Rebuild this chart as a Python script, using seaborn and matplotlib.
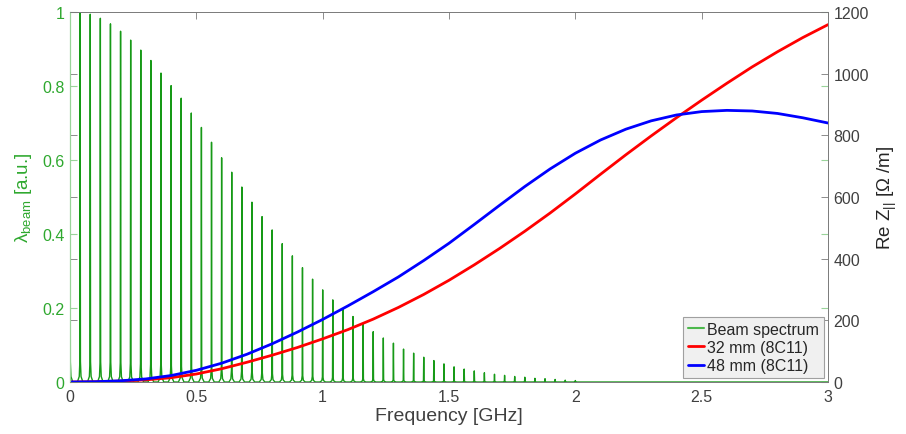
import numpy as np
import pandas as pd
import matplotlib
matplotlib.use("Agg")
import matplotlib.pyplot as plt
import seaborn as sns

# Beam spectrum: harmonic frequencies (GHz) and normalised line amplitudes
harmonic_ghz = [0.00, 0.04, 0.08, 0.12, 0.16, 0.20, 0.24, 0.28, 0.32, 0.36,
                0.40, 0.44, 0.48, 0.52, 0.56, 0.60, 0.64, 0.68, 0.72, 0.76,
                0.80, 0.84, 0.88, 0.92, 0.96, 1.00, 1.04, 1.08, 1.12, 1.16,
                1.20, 1.24, 1.28, 1.32, 1.36, 1.40, 1.44, 1.48, 1.52, 1.56,
                1.60, 1.64, 1.68, 1.72, 1.76, 1.80, 1.84, 1.88, 1.92, 1.96, 2.00]
line_amp = [1.000, 0.999, 0.994, 0.983, 0.968, 0.948, 0.924, 0.897, 0.869, 0.835,
            0.801, 0.767, 0.727, 0.688, 0.648, 0.606, 0.567, 0.527, 0.486, 0.447,
            0.411, 0.374, 0.341, 0.309, 0.278, 0.249, 0.222, 0.197, 0.177, 0.157,
            0.136, 0.119, 0.105, 0.089, 0.078, 0.067, 0.058, 0.049, 0.041, 0.035,
            0.030, 0.025, 0.021, 0.018, 0.015, 0.013, 0.010, 0.009, 0.007, 0.005, 0.004]

# Real part of the longitudinal impedance for two kicker apertures (Ohm/m)
freq_ghz = [0.0, 0.1, 0.2, 0.3, 0.4, 0.5, 0.6, 0.7, 0.8, 0.9, 1.0,
            1.1, 1.2, 1.3, 1.4, 1.5, 1.6, 1.7, 1.8, 1.9, 2.0,
            2.1, 2.2, 2.3, 2.4, 2.5, 2.6, 2.7, 2.8, 2.9, 3.0]
z_32mm = [0, 1, 3, 7, 14, 26, 43, 64, 87, 112, 140,
          170, 204, 242, 284, 330, 380, 433, 489, 548, 610,
          674, 737, 798, 857, 914, 969, 1022, 1071, 1117, 1159]
z_48mm = [0, 1, 4, 10, 21, 38, 61, 90, 124, 162, 203,
          247, 293, 341, 394, 450, 511, 573, 634, 691, 742,
          785, 820, 847, 866, 877, 881, 879, 871, 857, 840]

legend_labels = ["Beam spectrum", "32 mm (8C11)", "48 mm (8C11)"]
x_ticks = [0, 0.5, 1, 1.5, 2, 2.5, 3]
x_ticklabels = ["0", "0.5", "1", "1.5", "2", "2.5", "3"]
left_ticks = [0, 0.2, 0.4, 0.6, 0.8, 1]
left_ticklabels = ["0", "0.2", "0.4", "0.6", "0.8", "1"]
right_ticks = [0, 200, 400, 600, 800, 1000, 1200]

sns.set_style("white")
plt.rcParams["font.family"] = ["Liberation Sans", "DejaVu Sans"]
plt.rcParams["mathtext.fontset"] = "custom"
plt.rcParams["mathtext.rm"] = "Liberation Sans"
plt.rcParams["mathtext.it"] = "Liberation Sans:italic"

GREEN_LINE = "#179a17"
GREEN_TEXT = "#2ea82e"
GREEN_TICK = "#9ad49a"
GRAY = "#262626"
SPINE = "#7a7a7a"

# Each spectral line is drawn as a thin spike with a short flared skirt
skirt_dx = [-0.011, -0.0035, -0.0012, 0.0, 0.0012, 0.0035, 0.011]
skirt_frac = [0.0, 0.015, 0.055, None, 0.055, 0.015, 0.0]
xs, ys = [], []
for f, a in zip(harmonic_ghz, line_amp):
    for dx, fr in zip(skirt_dx, skirt_frac):
        xs.append(f + dx)
        ys.append(a if fr is None else a * fr)
xs.append(3.0)
ys.append(0.0)
spectrum = pd.DataFrame({"f": xs, "amp": ys})

fig = plt.figure(figsize=(9.06, 4.35), dpi=100)
ax1 = fig.add_axes([0.0773, 0.1195, 0.8366, 0.8506])
ax2 = ax1.twinx()

sns.lineplot(data=spectrum, x="f", y="amp", estimator=None, sort=False,
             ax=ax1, color=GREEN_LINE, lw=1.0, label=legend_labels[0])
sns.lineplot(x=freq_ghz, y=z_32mm, ax=ax2, color="#ff0000", lw=2.0,
             label=legend_labels[1])
sns.lineplot(x=freq_ghz, y=z_48mm, ax=ax2, color="#0000ff", lw=2.0,
             label=legend_labels[2])

ax1.set_xlim(0, 3)
ax1.set_ylim(0, 1)
ax2.set_ylim(0, 1200)

ax1.set_xticks(x_ticks)
ax1.set_xticklabels(x_ticklabels)
ax1.set_yticks(left_ticks)
ax1.set_yticklabels(left_ticklabels)
ax2.set_yticks(right_ticks)
ax2.set_yticklabels([str(v) for v in right_ticks])

ax1.tick_params(axis="x", direction="in", length=5, width=0.6, color=SPINE,
                labelcolor="#404040", labelsize=11.5, top=True, pad=5)
ax1.tick_params(axis="y", direction="in", length=5, width=0.8, color=GREEN_TICK,
                labelcolor=GREEN_TEXT, labelsize=11.5, right=True, pad=4)
ax2.tick_params(axis="y", direction="in", length=5, width=0.6, color=SPINE,
                labelcolor="#404040", labelsize=11.5, left=True, pad=4)

for ax in (ax1, ax2):
    for side in ("top", "bottom", "right"):
        ax.spines[side].set_color(SPINE)
        ax.spines[side].set_linewidth(0.6)
    ax.spines["left"].set_color(GREEN_TICK)
    ax.spines["left"].set_linewidth(0.8)

ax1.set_xlabel("Frequency [GHz]", fontsize=14, color="#404040", labelpad=2)
ax1.set_ylabel(r"λ$_{\mathrm{beam}}$ [a.u.]", fontsize=13.5, color=GREEN_TEXT,
               labelpad=6)
ax2.set_ylabel(r"Re Z$_{||}$ [Ω /m]", fontsize=13.5, color=GRAY, labelpad=5)

h1, l1 = ax1.get_legend_handles_labels()
h2, l2 = ax2.get_legend_handles_labels()
if ax1.get_legend() is not None:
    ax1.get_legend().remove()
leg = ax2.legend(h1 + h2, l1 + l2, loc="lower right", fontsize=11.5,
                 frameon=True, fancybox=False, facecolor="#f0f0f0",
                 edgecolor="#a0a0a0", framealpha=1.0, handlelength=1.0,
                 handletextpad=0.2, borderpad=0.3, labelspacing=0.2,
                 borderaxespad=0.25)
leg.get_frame().set_linewidth(0.8)
leg.legend_handles[0].set_color("#4cb84c")
leg.legend_handles[0].set_linewidth(1.5)
for t in leg.get_texts():
    t.set_color("#262626")

fig.savefig("out.png", dpi=100)
